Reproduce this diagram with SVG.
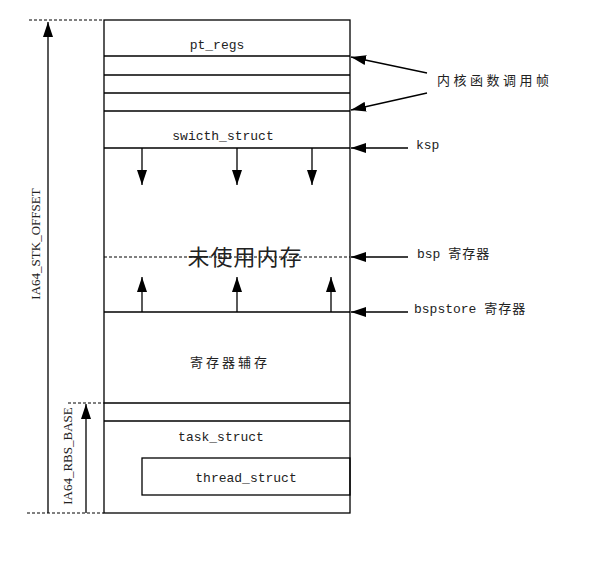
<svg xmlns="http://www.w3.org/2000/svg" width="589" height="566" viewBox="0 0 589 566">
<style>
.ln{stroke:#000;stroke-width:1.3;fill:none}
.ds{stroke:#000;stroke-width:1;fill:none;stroke-dasharray:3 2}
.mono{font-family:"Liberation Mono","Noto Sans CJK SC",monospace;font-size:13px;fill:#222}
.cjk{font-family:"Noto Sans CJK SC",sans-serif;fill:#222}
.ser{font-family:"Liberation Serif",serif;font-size:13px;fill:#222}
</style>
<defs>
<marker id="ah" viewBox="0 0 15 10" refX="15" refY="5" markerWidth="15" markerHeight="10" markerUnits="userSpaceOnUse" orient="auto">
<path d="M0,0 L15,5 L0,10 Z" fill="#000"/>
</marker>
</defs>
<g id="stack">
<rect x="104" y="20" width="246" height="493" class="ln"/>
<line x1="104" y1="56" x2="350" y2="56" class="ln"/>
<line x1="104" y1="75" x2="350" y2="75" class="ln"/>
<line x1="104" y1="93" x2="350" y2="93" class="ln"/>
<line x1="104" y1="111" x2="350" y2="111" class="ln"/>
<line x1="104" y1="148" x2="350" y2="148" class="ln"/>
<line x1="104" y1="257" x2="350" y2="257" class="ds"/>
<line x1="104" y1="312" x2="350" y2="312" class="ln"/>
<line x1="104" y1="403" x2="350" y2="403" class="ln"/>
<line x1="104" y1="421" x2="350" y2="421" class="ln"/>
<text x="217" y="49" class="mono" text-anchor="middle">pt_regs</text>
<text x="223" y="140" class="mono" text-anchor="middle">swicth_struct</text>
<text x="245" y="265" class="cjk" font-size="22" text-anchor="middle" letter-spacing="1">未使用内存</text>
<text x="230" y="367" class="cjk" font-size="13" text-anchor="middle" letter-spacing="3">寄存器辅存</text>
<text x="221" y="441" class="mono" text-anchor="middle">task_struct</text>
</g>
<g id="thread_struct">
<rect x="142" y="458" width="208" height="37" class="ln"/>
<text x="246" y="482" class="mono" text-anchor="middle">thread_struct</text>
</g>
<g id="labels">
<text x="437" y="85" class="cjk" font-size="13" letter-spacing="3.5">内核函数调用帧</text>
<text x="416" y="149" class="mono">ksp</text>
<text x="417" y="258" class="mono">bsp <tspan class="cjk" font-size="13" letter-spacing="1">寄存器</tspan></text>
<text x="414" y="313" class="mono">bspstore <tspan class="cjk" font-size="13" letter-spacing="1">寄存器</tspan></text>
<text transform="translate(40,244) rotate(-90)" class="ser" text-anchor="middle">IA64_STK_OFFSET</text>
<text transform="translate(72,456) rotate(-90)" class="ser" text-anchor="middle">IA64_RBS_BASE</text>
</g>
<g id="connectors">
<line x1="29" y1="20" x2="104" y2="20" class="ds"/>
<line x1="68" y1="403" x2="104" y2="403" class="ds"/>
<line x1="27" y1="513" x2="104" y2="513" class="ds"/>
<line x1="48" y1="513" x2="48" y2="22" class="ln" marker-end="url(#ah)"/>
<line x1="86" y1="513" x2="86" y2="404" class="ln" marker-end="url(#ah)"/>
<line x1="142" y1="148" x2="142" y2="185" class="ln" marker-end="url(#ah)"/>
<line x1="237" y1="148" x2="237" y2="185" class="ln" marker-end="url(#ah)"/>
<line x1="312" y1="148" x2="312" y2="185" class="ln" marker-end="url(#ah)"/>
<line x1="142" y1="312" x2="142" y2="277" class="ln" marker-end="url(#ah)"/>
<line x1="237" y1="312" x2="237" y2="277" class="ln" marker-end="url(#ah)"/>
<line x1="331" y1="312" x2="331" y2="277" class="ln" marker-end="url(#ah)"/>
<line x1="427" y1="73" x2="351" y2="57" class="ln" marker-end="url(#ah)"/>
<line x1="427" y1="93" x2="351" y2="110" class="ln" marker-end="url(#ah)"/>
<line x1="408" y1="148" x2="351" y2="148" class="ln" marker-end="url(#ah)"/>
<line x1="408" y1="257" x2="351" y2="257" class="ln" marker-end="url(#ah)"/>
<line x1="408" y1="312" x2="351" y2="312" class="ln" marker-end="url(#ah)"/>
</g>
</svg>
